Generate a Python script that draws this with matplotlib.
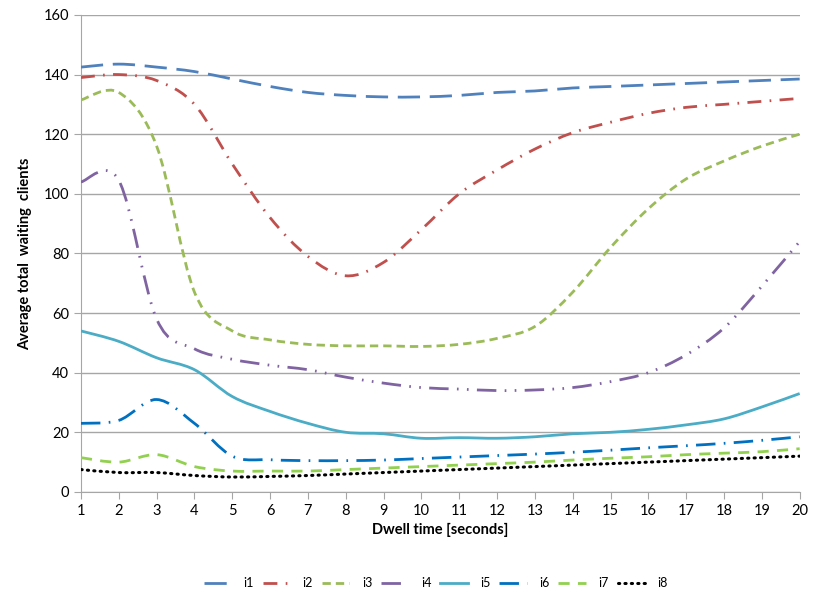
import numpy as np
import matplotlib.pyplot as plt
from matplotlib.path import Path
from matplotlib.patches import PathPatch
from matplotlib.lines import Line2D

plt.rcParams['font.family'] = ['Lato', 'DejaVu Sans']

# Data
dwell = list(range(1, 21))
i1 = [142.5, 143.5, 142.5, 141, 138.5, 136, 134, 133, 132.5, 132.5, 133, 134, 134.5, 135.5, 136, 136.5, 137, 137.5, 138, 138.5]
i2 = [139, 140, 138, 130, 110, 92, 79, 72.5, 77, 88, 100, 108, 115, 120.5, 124, 127, 129, 130, 131, 132]
i3 = [131.5, 134, 116, 67, 54, 51, 49.5, 49, 49, 48.8, 49.5, 51.5, 55.5, 67, 82, 95, 105, 111, 116, 120]
i4 = [104, 104.5, 58, 48, 44.5, 42.5, 41, 38.5, 36.5, 35, 34.5, 34, 34.2, 35, 37, 40, 46, 55, 69, 84]
i5 = [54, 50.5, 45, 41, 32, 27, 23, 20, 19.5, 18, 18.2, 18, 18.5, 19.5, 20, 21, 22.5, 24.5, 28.5, 33]
i6 = [23, 24, 31, 23, 12, 10.8, 10.5, 10.5, 10.7, 11.2, 11.7, 12.2, 12.7, 13.3, 14, 14.8, 15.5, 16.3, 17.3, 18.5]
i7 = [11.5, 10, 12.5, 8.5, 7, 7, 7, 7.5, 8, 8.5, 9, 9.5, 10, 10.7, 11.3, 11.8, 12.5, 13, 13.5, 14.5]
i8 = [7.5, 6.5, 6.5, 5.5, 5, 5.2, 5.5, 6, 6.5, 7, 7.5, 8, 8.5, 9, 9.5, 10, 10.5, 11, 11.5, 12]

series = [('i1', i1), ('i2', i2), ('i3', i3), ('i4', i4),
          ('i5', i5), ('i6', i6), ('i7', i7), ('i8', i8)]
colors = ['#4F81BD', '#C0504D', '#9BBB59', '#8064A2', '#4BACC6', '#0070C0', '#92D050', '#000000']
dashes = [(0, (8, 3.5)), (0, (5, 3, 0.6, 3)), (0, (3, 1.8)), (0, (7, 3, 0.6, 3, 0.6, 3)),
          '-', (0, (7, 3, 0.6, 3)), (0, (4, 3)), (0, (0.4, 1.7))]


def smooth_path(x, y, t=1/6):
    # Excel-like smoothed line: Catmull-Rom segments as cubic Bezier curves
    x = np.asarray(x, float)
    y = np.asarray(y, float)
    pts = np.column_stack([x, y])
    verts = [pts[0]]
    codes = [Path.MOVETO]
    n = len(pts)
    for k in range(n - 1):
        p0 = pts[k - 1] if k > 0 else pts[k]
        p1 = pts[k]
        p2 = pts[k + 1]
        p3 = pts[k + 2] if k + 2 < n else pts[k + 1]
        c1 = p1 + (p2 - p0) * t
        c2 = p2 - (p3 - p1) * t
        verts += [c1, c2, p2]
        codes += [Path.CURVE4] * 3
    return Path(verts, codes)


fig = plt.figure(figsize=(8.13, 5.97), dpi=100)
ax = fig.add_axes([0.0996, 0.176, 0.884, 0.799])

handles = []
for (name, vals), c, ls in zip(series, colors, dashes):
    lw = 2.0 if name != 'i8' else 2.2
    cap = 'round' if name == 'i8' else 'butt'
    patch = PathPatch(smooth_path(dwell, vals), fill=False, edgecolor=c, lw=lw,
                      linestyle=ls, capstyle=cap, zorder=3)
    ax.add_patch(patch)
    handles.append(Line2D([], [], color=c, lw=lw, linestyle=ls, label=name,
                          dash_capstyle=cap))

ax.set_xlim(1, 20)
ax.set_ylim(0, 160)
ax.set_xticks(dwell)
ax.set_yticks(range(0, 161, 20))
ax.grid(axis='y', color='#A6A6A6', lw=1)
ax.set_axisbelow(True)
for s in ['top', 'right']:
    ax.spines[s].set_visible(False)
for s in ['left', 'bottom']:
    ax.spines[s].set_color('#A6A6A6')
ax.tick_params(axis='both', colors='#A6A6A6', labelcolor='black', labelsize=10.5, length=5)

ax.set_xlabel('Dwell time [seconds]', fontsize=10.5, fontweight='bold', labelpad=4)
ax.set_ylabel('Average total  waiting  clients', fontsize=10.5, fontweight='bold', labelpad=8)

fig.legend(handles=handles, loc='center', bbox_to_anchor=(0.536, 0.023), ncol=8,
           frameon=False, fontsize=9, handlelength=2.2, handletextpad=1.0, columnspacing=0.7)

plt.savefig('out.png', dpi=100)
plt.close()
